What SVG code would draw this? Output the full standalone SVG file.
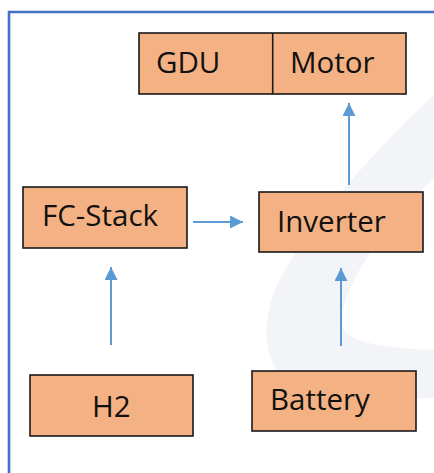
<svg xmlns="http://www.w3.org/2000/svg" width="434" height="473" viewBox="0 0 434 473">
  <style>
    .box { fill: #F4B183; stroke: #1a1a1a; stroke-width: 1.6; }
    .lbl { font-family: "Open Sans", "Liberation Sans", sans-serif; font-size: 29.5px; fill: #111111; }
    .conn { stroke: #5B9BD5; stroke-width: 2; fill: none; marker-end: url(#arr); }
  </style>
  <defs>
    <marker id="arr" markerWidth="14" markerHeight="14" refX="13" refY="6.5" orient="auto" markerUnits="userSpaceOnUse">
      <path d="M0,0 L13,6.5 L0,13 Z" fill="#5B9BD5"/>
    </marker>
  </defs>
  <rect width="434" height="473" fill="#ffffff"/>
  <path d="M434,95 C385,140 305,225 275,290 C255,340 270,396 330,398 L434,398 L434,350 C395,348 345,345 342,325 C338,290 385,225 434,178 Z" fill="#F2F4F8"/>
  <path d="M9,480 L9,12 L440,12" fill="none" stroke="#4472C4" stroke-width="2.6"/>
  <g id="gdu-motor">
    <rect class="box" x="139" y="33" width="267" height="61"/>
    <line x1="272.7" y1="33" x2="272.7" y2="94" stroke="#1a1a1a" stroke-width="1.6"/>
    <text class="lbl" x="156" y="73">GDU</text>
    <text class="lbl" x="290" y="73">Motor</text>
  </g>
  <g id="fc-stack">
    <rect class="box" x="23" y="187" width="164" height="61"/>
    <text class="lbl" x="42" y="226">FC-Stack</text>
  </g>
  <g id="inverter">
    <rect class="box" x="259" y="192" width="164" height="60"/>
    <text class="lbl" x="277" y="232">Inverter</text>
  </g>
  <g id="h2">
    <rect class="box" x="30" y="375" width="163" height="61"/>
    <text class="lbl" x="92" y="417">H2</text>
  </g>
  <g id="battery">
    <rect class="box" x="252" y="371" width="164" height="60"/>
    <text class="lbl" x="270" y="410">Battery</text>
  </g>
  <g id="connectors">
    <line class="conn" x1="349" y1="185" x2="349" y2="103"/>
    <line class="conn" x1="193" y1="222" x2="243" y2="222"/>
    <line class="conn" x1="111" y1="345" x2="111" y2="267"/>
    <line class="conn" x1="341" y1="346" x2="341" y2="268"/>
  </g>
</svg>
